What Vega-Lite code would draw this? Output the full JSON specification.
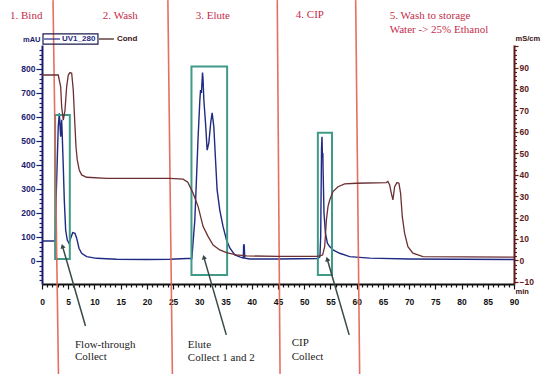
{
  "$schema": "https://vega.github.io/schema/vega-lite/v6.json",
  "width": 472,
  "height": 239,
  "autosize": "none",
  "padding": {"left": 42, "top": 45, "right": 37, "bottom": 90},
  "background": "white",
  "config": {"view": {"stroke": null}, "axis": {"grid": false}},
  "datasets": {
    "uv": [
      {"t": 0, "v": 83}, {"t": 2.45, "v": 83}, {"t": 2.6, "v": 120}, {"t": 2.67, "v": 241},
      {"t": 2.91, "v": 421}, {"t": 3.1, "v": 560}, {"t": 3.3, "v": 615}, {"t": 3.45, "v": 560},
      {"t": 3.56, "v": 518}, {"t": 3.75, "v": 588}, {"t": 3.87, "v": 518}, {"t": 4.06, "v": 393},
      {"t": 4.25, "v": 254}, {"t": 4.51, "v": 129}, {"t": 4.82, "v": 87}, {"t": 5.14, "v": 74},
      {"t": 5.47, "v": 95}, {"t": 5.85, "v": 118}, {"t": 6.29, "v": 115}, {"t": 6.61, "v": 95},
      {"t": 7.05, "v": 53}, {"t": 7.56, "v": 32}, {"t": 8.51, "v": 18}, {"t": 10.42, "v": 11},
      {"t": 14.23, "v": 7}, {"t": 20, "v": 6}, {"t": 24.38, "v": 7}, {"t": 27.56, "v": 10},
      {"t": 28.57, "v": 10}, {"t": 29.14, "v": 171}, {"t": 29.47, "v": 351}, {"t": 29.77, "v": 518},
      {"t": 30.1, "v": 671}, {"t": 30.23, "v": 712}, {"t": 30.4, "v": 700}, {"t": 30.61, "v": 785},
      {"t": 30.7, "v": 760}, {"t": 30.86, "v": 671}, {"t": 31.18, "v": 575}, {"t": 31.49, "v": 462},
      {"t": 31.81, "v": 492}, {"t": 32.19, "v": 580}, {"t": 32.44, "v": 617}, {"t": 32.76, "v": 560},
      {"t": 33.09, "v": 421}, {"t": 33.39, "v": 296}, {"t": 33.9, "v": 212}, {"t": 34.53, "v": 143},
      {"t": 35.18, "v": 87}, {"t": 35.81, "v": 54}, {"t": 36.76, "v": 25}, {"t": 37.71, "v": 17},
      {"t": 38.38, "v": 12}, {"t": 38.45, "v": 67}, {"t": 38.55, "v": 67}, {"t": 38.67, "v": 12},
      {"t": 39.62, "v": 8}, {"t": 45, "v": 8}, {"t": 52.6, "v": 10}, {"t": 53.0, "v": 18},
      {"t": 53.14, "v": 101}, {"t": 53.3, "v": 470}, {"t": 53.39, "v": 518}, {"t": 53.48, "v": 430},
      {"t": 53.55, "v": 450}, {"t": 53.6, "v": 379}, {"t": 53.77, "v": 200}, {"t": 54.04, "v": 117},
      {"t": 54.42, "v": 74}, {"t": 54.86, "v": 60}, {"t": 55.49, "v": 46}, {"t": 56.76, "v": 32},
      {"t": 58.67, "v": 18}, {"t": 62.48, "v": 12}, {"t": 70, "v": 8}, {"t": 90, "v": 6}
    ],
    "cond": [
      {"t": 0, "c": 86.5}, {"t": 3.1, "c": 86.5}, {"t": 3.56, "c": 81}, {"t": 3.75, "c": 71.7},
      {"t": 4.06, "c": 65.5}, {"t": 4.38, "c": 70}, {"t": 4.7, "c": 81}, {"t": 5.01, "c": 86.5},
      {"t": 5.33, "c": 87.6}, {"t": 5.66, "c": 87.3}, {"t": 5.96, "c": 79.5}, {"t": 6.23, "c": 65.5},
      {"t": 6.48, "c": 53}, {"t": 6.72, "c": 46.9}, {"t": 7.1, "c": 42.2}, {"t": 7.56, "c": 39.9},
      {"t": 8.51, "c": 38.8}, {"t": 12.32, "c": 38.3}, {"t": 24.38, "c": 38.3}, {"t": 26.9, "c": 37.9},
      {"t": 27.8, "c": 36.5}, {"t": 28.82, "c": 31.3}, {"t": 29.77, "c": 25.1}, {"t": 30.72, "c": 15.8},
      {"t": 31.68, "c": 11.1}, {"t": 32.63, "c": 7.2}, {"t": 33.9, "c": 4.9}, {"t": 35.18, "c": 3.6},
      {"t": 37.08, "c": 2.6}, {"t": 38.99, "c": 2.1}, {"t": 45, "c": 1.9}, {"t": 52.5, "c": 1.9},
      {"t": 53.5, "c": 2.5}, {"t": 53.9, "c": 6.4}, {"t": 54.23, "c": 18.9}, {"t": 54.53, "c": 25.1},
      {"t": 54.86, "c": 28.2}, {"t": 55.49, "c": 32.1}, {"t": 56.44, "c": 34.4}, {"t": 57.71, "c": 35.7},
      {"t": 59.94, "c": 36.0}, {"t": 65.66, "c": 36.3}, {"t": 65.96, "c": 36.8}, {"t": 66.29, "c": 35.2},
      {"t": 66.61, "c": 31.3}, {"t": 66.91, "c": 28.2}, {"t": 67.24, "c": 34.4}, {"t": 67.68, "c": 36.3},
      {"t": 68.06, "c": 36.0}, {"t": 68.38, "c": 31.3}, {"t": 68.7, "c": 20.4}, {"t": 69.14, "c": 12.7},
      {"t": 69.77, "c": 6.4}, {"t": 70.72, "c": 3.4}, {"t": 72.63, "c": 1.8}, {"t": 90, "c": 1.5}
    ],
    "phases": [
      {"t1": 2.1, "t2": 3.14, "v1": 1087, "v2": -471},
      {"t1": 24.0, "t2": 24.86, "v1": 1087, "v2": -471},
      {"t1": 44.86, "t2": 45.39, "v1": 1087, "v2": -471},
      {"t1": 59.81, "t2": 60.57, "v1": 1087, "v2": -471}
    ],
    "boxes": [
      {"t1": 2.5, "t2": 5.3, "v1": 608, "v2": 8},
      {"t1": 28.5, "t2": 35.3, "v1": 810, "v2": -58},
      {"t1": 52.6, "t2": 55.3, "v1": 534, "v2": -58}
    ],
    "arrows": [
      {"t1": 3.9, "v1": 62, "t2": 8.29, "v2": -271},
      {"t1": 30.86, "v1": 16, "t2": 35.14, "v2": -308},
      {"t1": 54.38, "v1": 8, "t2": 58.57, "v2": -308}
    ],
    "phaseLabels": [
      {"t": -6.1, "v": 1022, "text": "1. Bind"},
      {"t": 11.6, "v": 1022, "text": "2. Wash"},
      {"t": 29.3, "v": 1022, "text": "3. Elute"},
      {"t": 48.4, "v": 1024, "text": "4. CIP"},
      {"t": 66.3, "v": 1022, "text": "5. Wash to storage"},
      {"t": 66.3, "v": 962, "text": "Water -> 25% Ethanol"}
    ],
    "callouts": [
      {"t": 6.29, "v": -350, "text": "Flow-through"},
      {"t": 6.29, "v": -402, "text": "Collect"},
      {"t": 27.8, "v": -350, "text": "Elute"},
      {"t": 27.8, "v": -404, "text": "Collect 1 and 2"},
      {"t": 47.6, "v": -342, "text": "CIP"},
      {"t": 47.6, "v": -400, "text": "Collect"}
    ],
    "legendBox": [{"t1": 0.19, "t2": 10.67, "v1": 946, "v2": 904}],
    "legendLines": [
      {"t1": 0.38, "t2": 3.43, "v": 925, "series": "UV1_280"},
      {"t1": 10.86, "t2": 13.71, "v": 925, "series": "Cond"}
    ],
    "legendText": [
      {"t": 3.81, "v": 925, "series": "UV1_280"},
      {"t": 14.29, "v": 925, "series": "Cond"}
    ]
  },
  "layer": [
    {
      "data": {"name": "uv"},
      "mark": {"type": "line", "color": "#1f2a82", "strokeWidth": 1.4, "clip": false},
      "encoding": {
        "x": {
          "field": "t", "type": "quantitative",
          "scale": {"domain": [0, 90], "nice": false, "zero": false},
          "axis": {
            "values": [0,1,2,3,4,5,6,7,8,9,10,11,12,13,14,15,16,17,18,19,20,21,22,23,24,25,26,27,28,29,30,31,32,33,34,35,36,37,38,39,40,41,42,43,44,45,46,47,48,49,50,51,52,53,54,55,56,57,58,59,60,61,62,63,64,65,66,67,68,69,70,71,72,73,74,75,76,77,78,79,80,81,82,83,84,85,86,87,88,89,90],
            "labelExpr": "datum.value % 5 === 0 ? datum.label : ''",
            "tickSize": {"condition": {"test": "datum.value % 5 === 0", "value": 5}, "value": 3},
            "domainColor": "#111111", "domainWidth": 2, "tickColor": "#111111", "tickWidth": 1.2,
            "labelColor": "#111111", "labelFont": "Liberation Sans", "labelFontWeight": "bold", "labelFontSize": 8.5,
            "labelPadding": 8, "labelOverlap": false, "labelFlush": false, "labelBound": false,
            "title": "min", "titleX": 473, "titleY": 7, "titleAlign": "left", "titleBaseline": "middle", "titleAngle": 0,
            "titleFont": "Liberation Sans", "titleFontSize": 7.5, "titleFontWeight": "bold", "titleColor": "#3a1010"
          }
        },
        "y": {
          "field": "v", "type": "quantitative",
          "scale": {"domain": [-96, 900], "nice": false, "zero": false},
          "axis": {
            "orient": "left",
            "values": [-80,-60,-40,-20,0,20,40,60,80,100,120,140,160,180,200,220,240,260,280,300,320,340,360,380,400,420,440,460,480,500,520,540,560,580,600,620,640,660,680,700,720,740,760,780,800,820,840,860,880],
            "labelExpr": "datum.value % 100 === 0 && datum.value >= 0 ? datum.label : ''",
            "tickSize": {"condition": {"test": "datum.value % 100 === 0", "value": 6}, "value": 3},
            "domainColor": "#1c1c6e", "domainWidth": 2, "tickColor": "#1c1c6e", "tickWidth": 1.2,
            "labelColor": "#1c1c6e", "labelFont": "Liberation Sans", "labelFontWeight": "bold", "labelFontSize": 8.5,
            "labelPadding": 1, "labelOverlap": false, "labelFlush": false, "labelBound": false,
            "title": "mAU", "titleAngle": 0, "titleAlign": "right", "titleBaseline": "middle", "titleX": -2, "titleY": -6,
            "titleFont": "Liberation Sans", "titleFontSize": 7.5, "titleFontWeight": "bold", "titleColor": "#1c1c6e"
          }
        }
      }
    },
    {
      "data": {"name": "boxes"},
      "mark": {"type": "rect", "fill": null, "stroke": "#3f9a86", "strokeWidth": 2, "clip": false},
      "encoding": {
        "x": {"field": "t1", "type": "quantitative", "scale": {"domain": [0, 90], "nice": false, "zero": false}, "axis": null},
        "x2": {"field": "t2"},
        "y": {"field": "v1", "type": "quantitative", "scale": {"domain": [-96, 900], "nice": false, "zero": false}, "axis": null},
        "y2": {"field": "v2"}
      }
    },
    {
      "data": {"name": "phases"},
      "mark": {"type": "rule", "color": "#e2604f", "strokeWidth": 1.6, "opacity": 0.9, "clip": false},
      "encoding": {
        "x": {"field": "t1", "type": "quantitative", "scale": {"domain": [0, 90], "nice": false, "zero": false}, "axis": null},
        "x2": {"field": "t2"},
        "y": {"field": "v1", "type": "quantitative", "scale": {"domain": [-96, 900], "nice": false, "zero": false}, "axis": null},
        "y2": {"field": "v2"}
      }
    },
    {
      "data": {"name": "arrows"},
      "mark": {"type": "rule", "color": "#3a4848", "strokeWidth": 1.5, "clip": false},
      "encoding": {
        "x": {"field": "t1", "type": "quantitative", "scale": {"domain": [0, 90], "nice": false, "zero": false}, "axis": null},
        "x2": {"field": "t2"},
        "y": {"field": "v1", "type": "quantitative", "scale": {"domain": [-96, 900], "nice": false, "zero": false}, "axis": null},
        "y2": {"field": "v2"}
      }
    },
    {
      "data": {"name": "arrows"},
      "mark": {"type": "point", "shape": "triangle-up", "angle": 344, "size": 28, "filled": true, "color": "#3a4848", "opacity": 1, "clip": false},
      "encoding": {
        "x": {"field": "t1", "type": "quantitative", "scale": {"domain": [0, 90], "nice": false, "zero": false}, "axis": null},
        "y": {"field": "v1", "type": "quantitative", "scale": {"domain": [-96, 900], "nice": false, "zero": false}, "axis": null}
      }
    },
    {
      "data": {"name": "phaseLabels"},
      "mark": {"type": "text", "align": "left", "baseline": "middle", "font": "Liberation Serif", "fontSize": 11, "color": "#c42d4b", "clip": false},
      "encoding": {
        "x": {"field": "t", "type": "quantitative", "scale": {"domain": [0, 90], "nice": false, "zero": false}, "axis": null},
        "y": {"field": "v", "type": "quantitative", "scale": {"domain": [-96, 900], "nice": false, "zero": false}, "axis": null},
        "text": {"field": "text"}
      }
    },
    {
      "data": {"name": "callouts"},
      "mark": {"type": "text", "align": "left", "baseline": "middle", "font": "Liberation Serif", "fontSize": 11, "color": "#222222", "clip": false},
      "encoding": {
        "x": {"field": "t", "type": "quantitative", "scale": {"domain": [0, 90], "nice": false, "zero": false}, "axis": null},
        "y": {"field": "v", "type": "quantitative", "scale": {"domain": [-96, 900], "nice": false, "zero": false}, "axis": null},
        "text": {"field": "text"}
      }
    },
    {
      "data": {"name": "legendBox"},
      "mark": {"type": "rect", "fill": null, "stroke": "#1c1c4e", "strokeWidth": 1.2, "clip": false},
      "encoding": {
        "x": {"field": "t1", "type": "quantitative", "scale": {"domain": [0, 90], "nice": false, "zero": false}, "axis": null},
        "x2": {"field": "t2"},
        "y": {"field": "v1", "type": "quantitative", "scale": {"domain": [-96, 900], "nice": false, "zero": false}, "axis": null},
        "y2": {"field": "v2"}
      }
    },
    {
      "data": {"name": "legendLines"},
      "mark": {"type": "rule", "strokeWidth": 1.2, "clip": false},
      "encoding": {
        "x": {"field": "t1", "type": "quantitative", "scale": {"domain": [0, 90], "nice": false, "zero": false}, "axis": null},
        "x2": {"field": "t2"},
        "y": {"field": "v", "type": "quantitative", "scale": {"domain": [-96, 900], "nice": false, "zero": false}, "axis": null},
        "color": {"field": "series", "type": "nominal", "scale": {"domain": ["UV1_280", "Cond"], "range": ["#1f2a82", "#3a1414"]}, "legend": null}
      }
    },
    {
      "data": {"name": "legendText"},
      "mark": {"type": "text", "align": "left", "baseline": "middle", "font": "Liberation Sans", "fontSize": 8, "fontWeight": "bold", "clip": false},
      "encoding": {
        "x": {"field": "t", "type": "quantitative", "scale": {"domain": [0, 90], "nice": false, "zero": false}, "axis": null},
        "y": {"field": "v", "type": "quantitative", "scale": {"domain": [-96, 900], "nice": false, "zero": false}, "axis": null},
        "text": {"field": "series"},
        "color": {"field": "series", "type": "nominal", "scale": {"domain": ["UV1_280", "Cond"], "range": ["#1f2a82", "#3a1414"]}, "legend": null}
      }
    },
    {
      "data": {"name": "cond"},
      "mark": {"type": "line", "color": "#6b2f34", "strokeWidth": 1.3, "clip": false},
      "encoding": {
        "x": {"field": "t", "type": "quantitative", "scale": {"domain": [0, 90], "nice": false, "zero": false}, "axis": null},
        "y": {
          "field": "c", "type": "quantitative",
          "scale": {"domain": [-11, 100.5], "nice": false, "zero": false},
          "axis": {
            "orient": "right",
            "values": [-10,-8,-6,-4,-2,0,2,4,6,8,10,12,14,16,18,20,22,24,26,28,30,32,34,36,38,40,42,44,46,48,50,52,54,56,58,60,62,64,66,68,70,72,74,76,78,80,82,84,86,88,90,92,94,96,98,100],
            "labelExpr": "datum.value % 10 === 0 && datum.value <= 90 ? datum.label : ''",
            "tickSize": {"condition": {"test": "datum.value % 10 === 0", "value": 4}, "value": 2.5},
            "domainColor": "#5c1a1a", "domainWidth": 2, "tickColor": "#5c1a1a", "tickWidth": 1.2,
            "labelColor": "#5c1a1a", "labelFont": "Liberation Sans", "labelFontWeight": "bold", "labelFontSize": 8.5,
            "labelPadding": 1, "labelOverlap": false, "labelFlush": false, "labelBound": false,
            "title": "mS/cm", "titleAngle": 0, "titleAlign": "left", "titleBaseline": "middle", "titleX": 1, "titleY": -7,
            "titleFont": "Liberation Sans", "titleFontSize": 7.5, "titleFontWeight": "bold", "titleColor": "#3a1010"
          }
        }
      }
    }
  ],
  "resolve": {"scale": {"x": "independent", "y": "independent"}}
}
